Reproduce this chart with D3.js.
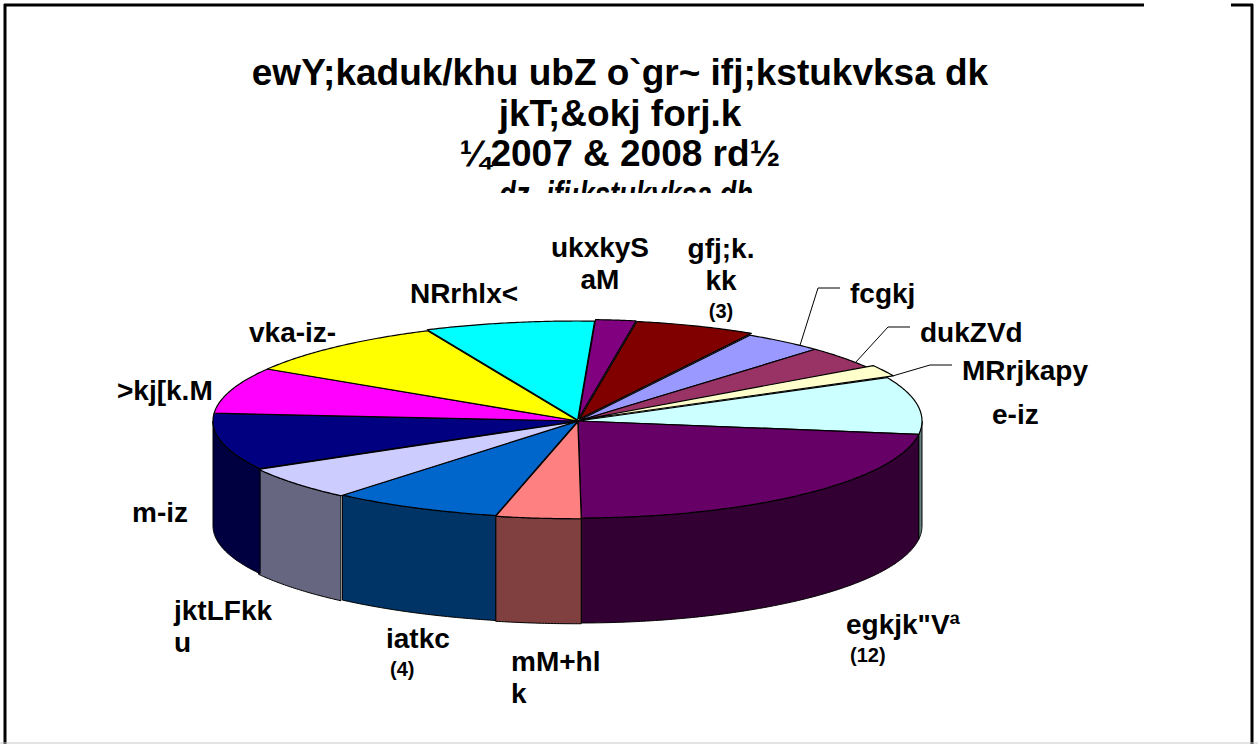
<!DOCTYPE html>
<html>
<head>
<meta charset="utf-8">
<script src="https://cdn.jsdelivr.net/npm/d3@7"></script>
<style>
  html, body { margin: 0; padding: 0; background: #fff; }
  svg { display: block; }
  text { font-family: "Liberation Sans", Arial, sans-serif; font-weight: bold; fill: #000; }
</style>
</head>
<body>
<svg id="chart" width="1258" height="744"></svg>
<script>
// राज्य (Kruti Dev text, typed as in the source slide)
const states = ["fcgkj", "dukZVd", "MRrjkapy", "e-iz", "egkjk\"Vª", "mM+hlk", "iatkc",
  "jktLFkku", "m-iz", ">kj[k.M", "vka-iz-", "NRrhlx<", "ukxkyS aM", "gfj;k.kk"];
// number of projects per state
const projects = [2, 2, 1, 5, 12, 2, 4, 3, 5, 4, 5, 4, 1, 3];
// the old excel fill palette
const sliceColors = ["#9999FF", "#993366", "#FFFFCC", "#CCFFFF", "#660066", "#FF8080", "#0066CC",
  "#CCCCFF", "#000080", "#FF00FF", "#FFFF00", "#00FFFF", "#800080", "#800000"];
// how the label text wraps, and which counts are visible
const labelLines = [["fcgkj"], ["dukZVd"], ["MRrjkapy"], ["e-iz"], ["egkjk\"Vª", "(12)"],
  ["mM+hl", "k"], ["iatkc", "(4)"], ["jktLFkk", "u"], ["m-iz"], [">kj[k.M"], ["vka-iz-"],
  ["NRrhlx<"], ["ukxkyS", "aM"], ["gfj;k.", "kk", "(3)"]];
const titleLines = ["ewY;kaduk/khu ubZ o`gr~ ifj;kstukvksa dk", "jkT;&okj forj.k", "¼2007 & 2008 rd½"];
const subTitle = "dz- ifj;kstukvksa dh";

const svg = d3.select("#chart");
const W = 1258, H = 744;

svg.append("rect").attr("width", W).attr("height", H).attr("fill", "#fff");

// slide frame
const frame = svg.append("g").attr("stroke", "#000").attr("stroke-width", 3).attr("fill", "none");
frame.append("line").attr("x1", 4).attr("y1", 5).attr("x2", 1144).attr("y2", 5);
frame.append("line").attr("x1", 1231).attr("y1", 5).attr("x2", 1253).attr("y2", 5);
frame.append("line").attr("x1", 5).attr("y1", 4).attr("x2", 5).attr("y2", H);
frame.append("line").attr("x1", 1252).attr("y1", 4).attr("x2", 1252).attr("y2", H);
svg.append("line").attr("x1", 0).attr("x2", W).attr("y1", 743).attr("y2", 743)
  .attr("stroke", "#c8c8c8").attr("stroke-width", 1);

// title
const titleX = 620;
const titleBase = [85, 126, 166];
titleLines.forEach((t, i) => {
  svg.append("text")
    .attr("x", titleX).attr("y", titleBase[i])
    .attr("text-anchor", "middle")
    .attr("font-size", 37)
    .text(t);
});
// the 4th line is cut off by the text box
svg.append("clipPath").attr("id", "subclip")
  .append("rect").attr("x", 0).attr("y", 0).attr("width", W).attr("height", 193);
svg.append("g").attr("clip-path", "url(#subclip)")
  .append("text")
  .attr("x", titleX + 6).attr("y", 207)
  .attr("text-anchor", "middle")
  .attr("font-size", 37)
  .attr("font-style", "italic")
  .attr("textLength", 254)
  .attr("lengthAdjust", "spacingAndGlyphs")
  .text(subTitle);

// 3d pie geometry (perspective: centre sits right of the middle of the ellipse)
const apex = [578, 421];
const depth = 105;
const rad = Math.PI / 180;
const start = 30 * rad;
const explode = [0, 0, 7, 0, 0, 1.5, 0, 2, 0, 0, 0, 2, 5, 4];

const pie = d3.pie().sort(null).value(d => d)
  .startAngle(start).endAngle(start + 2 * Math.PI);
const arcs = pie(projects);

// unit circle -> screen, left and right halves differ
const px = d3.scaleLinear().domain([-1, 0, 1]).range([213, apex[0], 922]);
const py = d3.scaleLinear().domain([-1, 0, 1]).range([322, apex[1], 518]);

function rim(a0, a1, off, dy) {
  const n = Math.max(2, Math.ceil((a1 - a0) / (0.5 * rad)));
  return d3.range(n + 1).map(k => {
    const a = a0 + (a1 - a0) * k / n;
    return [px(Math.sin(a)) + off[0], py(-Math.cos(a)) + off[1] + dy];
  });
}
function offset(d, i) {
  const m = (d.startAngle + d.endAngle) / 2;
  return [explode[i] * Math.sin(m), -explode[i] * 0.5 * Math.cos(m)];
}
const line = d3.line();
const half = c => { const r = d3.rgb(c); return d3.rgb(r.r / 2, r.g / 2, r.b / 2); };

// side walls (only the front half is visible)
const sides = svg.append("g");
arcs.forEach((d, i) => {
  const s = Math.max(d.startAngle, 90 * rad), e = Math.min(d.endAngle, 270 * rad);
  if (e <= s) return;
  const off = offset(d, i);
  const pts = rim(s, e, off, 0).concat(rim(s, e, off, depth).reverse());
  sides.append("path")
    .attr("d", line(pts) + "Z")
    .attr("fill", half(sliceColors[i]))
    .attr("stroke", "#000").attr("stroke-width", 1).attr("stroke-linejoin", "round");
});

// top faces
const tops = svg.append("g");
arcs.forEach((d, i) => {
  const off = offset(d, i);
  const pts = [[apex[0] + off[0], apex[1] + off[1]]].concat(rim(d.startAngle, d.endAngle, off, 0));
  tops.append("path")
    .attr("d", line(pts) + "Z")
    .attr("fill", sliceColors[i])
    .attr("stroke", "#000").attr("stroke-width", 1.2).attr("stroke-linejoin", "round");
});

// data labels
const labelPos = [
  { x: 850, y: 303, a: "start" }, { x: 920, y: 342, a: "start" }, { x: 962, y: 380, a: "start" },
  { x: 992, y: 424, a: "start" }, { x: 846, y: 634, a: "start" }, { x: 511, y: 671, a: "start" },
  { x: 386, y: 648, a: "start" }, { x: 174, y: 620, a: "start" }, { x: 132, y: 522, a: "start" },
  { x: 117, y: 400, a: "start" }, { x: 249, y: 342, a: "start" }, { x: 464, y: 303, a: "middle" },
  { x: 600, y: 257, a: "middle" }, { x: 721, y: 258, a: "middle" }
];
const labels = svg.append("g");
labelLines.forEach((lines, i) => {
  const p = labelPos[i];
  const t = labels.append("text").attr("text-anchor", p.a);
  let y = p.y;
  lines.forEach((s, k) => {
    const isCount = s.startsWith("(");
    if (k > 0) y += isCount ? 28 : 32;
    t.append("tspan")
      .attr("x", p.x + (isCount && p.a === "start" ? 4 : 0))
      .attr("y", y)
      .attr("font-size", isCount ? 20 : 28)
      .text(s);
  });
});

// leader lines for the three thin slices on the right
const leaderAt = { 0: 0.75, 1: 0.75, 2: 1.0 };
Object.keys(leaderAt).forEach(key => {
  const i = +key, d = arcs[i], off = offset(d, i);
  const a = d.startAngle + leaderAt[key] * (d.endAngle - d.startAngle);
  const end = [px(Math.sin(a)) + off[0], py(-Math.cos(a)) + off[1]];
  const p = labelPos[i];
  const yy = p.y - 15;
  svg.append("path")
    .attr("d", line([[p.x - 10, yy], [p.x - 32, yy], end]))
    .attr("fill", "none").attr("stroke", "#000").attr("stroke-width", 1);
});
</script>
</body>
</html>
